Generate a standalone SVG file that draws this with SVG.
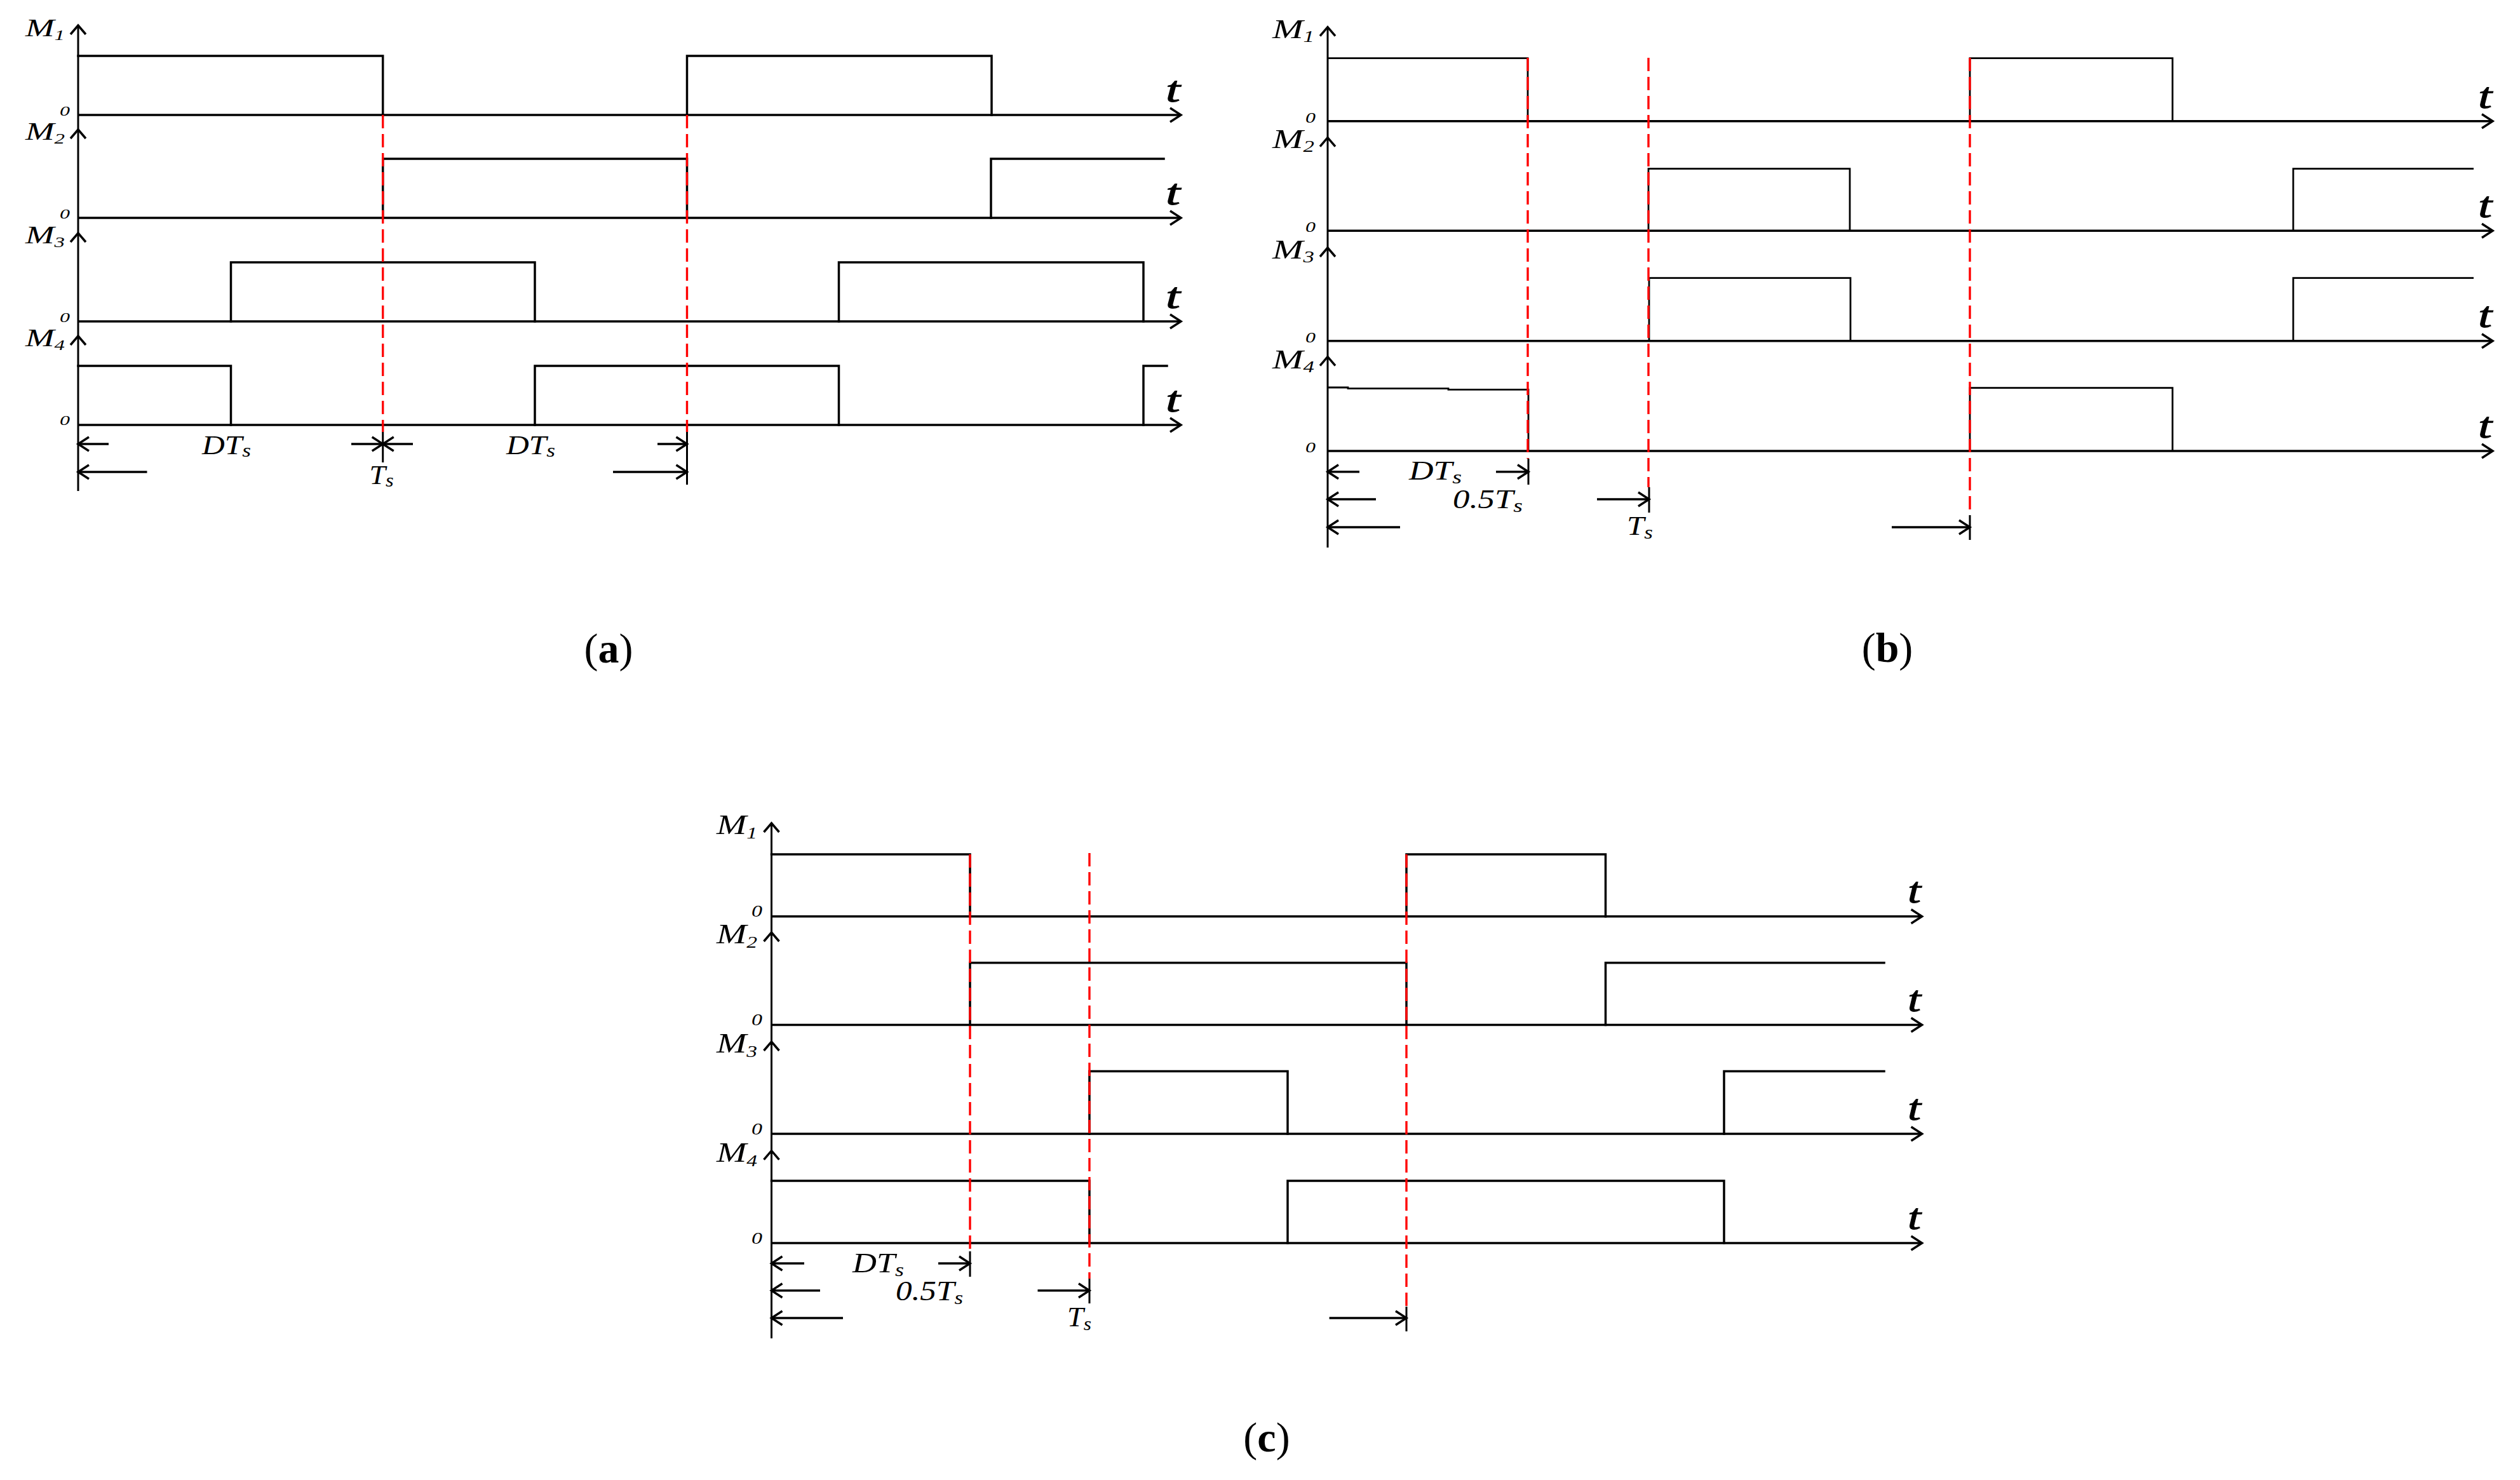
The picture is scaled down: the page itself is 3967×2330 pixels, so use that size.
<svg xmlns="http://www.w3.org/2000/svg" width="3967" height="2330" viewBox="0 0 3967 2330">
<style>
.w{fill:none;stroke:#000;stroke-width:3.5;stroke-linejoin:miter;stroke-linecap:square}
.wb{fill:none;stroke:#000;stroke-width:2.8;stroke-linejoin:miter}
.ax{fill:none;stroke:#000;stroke-width:3.5}
.av{fill:none;stroke:#000;stroke-width:3}
.rd{fill:none;stroke:#f00;stroke-width:3.4;stroke-dasharray:21 9}
.tk{fill:none;stroke:#000;stroke-width:3}
.dim{fill:none;stroke:#000;stroke-width:3.5}
.it{font-family:"Liberation Serif","Times New Roman",serif;font-style:italic;fill:#000}
.tt{font-family:"Liberation Serif","Times New Roman",serif;font-style:italic;fill:#000;stroke:#000;stroke-width:1}
.cap{font-family:"Liberation Serif","Times New Roman",serif;font-size:66px;fill:#000}
</style>
<defs>
<marker id="ah" markerUnits="userSpaceOnUse" viewBox="-2 -14 24 28" markerWidth="24" markerHeight="28" refX="18" refY="0" orient="auto" overflow="visible">
<path d="M1,-11 L18,0 L1,11" fill="none" stroke="#000" stroke-width="3.5"/>
</marker>
<marker id="ay" markerUnits="userSpaceOnUse" viewBox="-2 -14 20 28" markerWidth="20" markerHeight="28" refX="14" refY="0" orient="auto" overflow="visible">
<path d="M0,-12 L14,0 L0,12" fill="none" stroke="#000" stroke-width="3.5"/>
</marker>
</defs>
<rect width="3967" height="2330" fill="#fff"/>

<!-- ===== Panel (a) ===== -->
<g id="panel-a">
  <g id="a-axes">
    <line class="av" x1="123" y1="204" x2="123" y2="40" marker-end="url(#ay)"/>
    <line class="av" x1="123" y1="367" x2="123" y2="204" marker-end="url(#ay)"/>
    <line class="av" x1="123" y1="529" x2="123" y2="367" marker-end="url(#ay)"/>
    <line class="av" x1="123" y1="773" x2="123" y2="529" marker-end="url(#ay)"/>
    <line class="ax" x1="123" y1="181" x2="1859" y2="181" marker-end="url(#ah)"/>
    <line class="ax" x1="123" y1="343" x2="1859" y2="343" marker-end="url(#ah)"/>
    <line class="ax" x1="123" y1="506" x2="1859" y2="506" marker-end="url(#ah)"/>
    <line class="ax" x1="123" y1="669" x2="1859" y2="669" marker-end="url(#ah)"/>
  </g>
  <g id="a-M1"><path class="w" d="M123,88 H602.7 V181 M1081.5,181 V88 H1561 V181"/>
    <text class="it" x="40" y="57" font-size="40" textLength="62" lengthAdjust="spacingAndGlyphs">M<tspan font-size="24" dy="6">1</tspan></text>
    <text class="it" x="94" y="182" font-size="22" textLength="16" lengthAdjust="spacingAndGlyphs">0</text>
    <text class="tt" x="1835" y="160" font-size="56" textLength="23" lengthAdjust="spacingAndGlyphs">t</text></g>
  <g id="a-M2"><path class="w" d="M602.7,343 V250 H1081.5 V343 M1560,343 V250 H1832"/>
    <text class="it" x="40" y="220" font-size="40" textLength="62" lengthAdjust="spacingAndGlyphs">M<tspan font-size="24" dy="6">2</tspan></text>
    <text class="it" x="94" y="344" font-size="22" textLength="16" lengthAdjust="spacingAndGlyphs">0</text>
    <text class="tt" x="1835" y="322" font-size="56" textLength="23" lengthAdjust="spacingAndGlyphs">t</text></g>
  <g id="a-M3"><path class="w" d="M363.5,506 V413 H842 V506 M1320.5,506 V413 H1800 V506"/>
    <text class="it" x="40" y="383" font-size="40" textLength="62" lengthAdjust="spacingAndGlyphs">M<tspan font-size="24" dy="6">3</tspan></text>
    <text class="it" x="94" y="507" font-size="22" textLength="16" lengthAdjust="spacingAndGlyphs">0</text>
    <text class="tt" x="1835" y="485" font-size="56" textLength="23" lengthAdjust="spacingAndGlyphs">t</text></g>
  <g id="a-M4"><path class="w" d="M123,576 H363.5 V669 M842,669 V576 H1320.5 V669 M1800,669 V576 H1837"/>
    <text class="it" x="40" y="545" font-size="40" textLength="62" lengthAdjust="spacingAndGlyphs">M<tspan font-size="24" dy="6">4</tspan></text>
    <text class="it" x="94" y="669" font-size="22" textLength="16" lengthAdjust="spacingAndGlyphs">0</text>
    <text class="tt" x="1835" y="648" font-size="56" textLength="23" lengthAdjust="spacingAndGlyphs">t</text></g>
  <g id="a-marks">
    <line class="rd" x1="602.7" y1="181" x2="602.7" y2="680"/>
    <line class="rd" x1="1081.5" y1="181" x2="1081.5" y2="680"/>
    <line class="tk" x1="602.7" y1="680" x2="602.7" y2="728"/>
    <line class="tk" x1="1081.5" y1="680" x2="1081.5" y2="763"/>
    <text class="it" x="318" y="715" font-size="42" textLength="77" lengthAdjust="spacingAndGlyphs">DT<tspan font-size="30" dy="4">s</tspan></text>
    <text class="it" x="797" y="715" font-size="42" textLength="77" lengthAdjust="spacingAndGlyphs">DT<tspan font-size="30" dy="4">s</tspan></text>
    <text class="it" x="581.6" y="762" font-size="42" textLength="38" lengthAdjust="spacingAndGlyphs">T<tspan font-size="30" dy="4">s</tspan></text>
  </g>
  <text class="cap" x="958" y="1043" text-anchor="middle">(<tspan font-weight="bold">a</tspan>)</text>
</g>

<!-- ===== Panel (b) ===== -->
<g id="panel-b">
  <g id="b-axes">
    <line class="av" x1="2090" y1="216.7" x2="2090" y2="42.7" marker-end="url(#ay)"/>
    <line class="av" x1="2090" y1="390" x2="2090" y2="216.7" marker-end="url(#ay)"/>
    <line class="av" x1="2090" y1="561.7" x2="2090" y2="390" marker-end="url(#ay)"/>
    <line class="av" x1="2090" y1="862" x2="2090" y2="561.7" marker-end="url(#ay)"/>
    <line class="ax" x1="2090" y1="190.7" x2="3924" y2="190.7" marker-end="url(#ah)"/>
    <line class="ax" x1="2090" y1="363.3" x2="3924" y2="363.3" marker-end="url(#ah)"/>
    <line class="ax" x1="2090" y1="536.7" x2="3924" y2="536.7" marker-end="url(#ah)"/>
    <line class="ax" x1="2090" y1="710" x2="3924" y2="710" marker-end="url(#ah)"/>
  </g>
  <g id="b-M1"><path class="wb" d="M2090,91.7 H2405 V190.7 M3101,190.7 V91.7 H3420 V190.7"/>
    <text class="it" x="2003" y="60" font-size="42" textLength="66" lengthAdjust="spacingAndGlyphs">M<tspan font-size="25" dy="6">1</tspan></text>
    <text class="it" x="2055" y="193" font-size="23" textLength="16" lengthAdjust="spacingAndGlyphs">0</text>
    <text class="tt" x="3901" y="170" font-size="58" textLength="22" lengthAdjust="spacingAndGlyphs">t</text></g>
  <g id="b-M2"><path class="wb" d="M2595,363.3 V265.7 H2912 V363.3 M3610,363.3 V265.7 H3894"/>
    <text class="it" x="2003" y="233" font-size="42" textLength="66" lengthAdjust="spacingAndGlyphs">M<tspan font-size="25" dy="6">2</tspan></text>
    <text class="it" x="2055" y="365" font-size="23" textLength="16" lengthAdjust="spacingAndGlyphs">0</text>
    <text class="tt" x="3901" y="342" font-size="58" textLength="22" lengthAdjust="spacingAndGlyphs">t</text></g>
  <g id="b-M3"><path class="wb" d="M2596,536.7 V437.7 H2913 V536.7 M3610,536.7 V437.7 H3894"/>
    <text class="it" x="2003" y="407" font-size="42" textLength="66" lengthAdjust="spacingAndGlyphs">M<tspan font-size="25" dy="6">3</tspan></text>
    <text class="it" x="2055" y="539" font-size="23" textLength="16" lengthAdjust="spacingAndGlyphs">0</text>
    <text class="tt" x="3901" y="515" font-size="58" textLength="22" lengthAdjust="spacingAndGlyphs">t</text></g>
  <g id="b-M4"><path class="wb" d="M2090,610 H2122 V611.7 H2280 V613.3 H2406 V710 M3101,710 V610.7 H3420 V710"/>
    <text class="it" x="2003" y="580" font-size="42" textLength="66" lengthAdjust="spacingAndGlyphs">M<tspan font-size="25" dy="6">4</tspan></text>
    <text class="it" x="2055" y="712" font-size="23" textLength="16" lengthAdjust="spacingAndGlyphs">0</text>
    <text class="tt" x="3901" y="689" font-size="58" textLength="22" lengthAdjust="spacingAndGlyphs">t</text></g>
  <g id="b-marks">
    <line class="rd" x1="2405" y1="91" x2="2405" y2="722" stroke-width="2.6"/>
    <line class="rd" x1="2595" y1="91" x2="2595" y2="767" stroke-width="2.6"/>
    <line class="rd" x1="3101" y1="91" x2="3101" y2="811" stroke-width="2.6"/>
    <line class="tk" x1="2406" y1="722" x2="2406" y2="763"/>
    <line class="tk" x1="2596" y1="767" x2="2596" y2="807"/>
    <line class="tk" x1="3101" y1="811" x2="3101" y2="850"/>
    <text class="it" x="2218" y="755" font-size="42" textLength="83" lengthAdjust="spacingAndGlyphs">DT<tspan font-size="30" dy="6">s</tspan></text>
    <text class="it" x="2287" y="800" font-size="42" textLength="110" lengthAdjust="spacingAndGlyphs">0.5T<tspan font-size="30" dy="6">s</tspan></text>
    <text class="it" x="2561" y="842" font-size="42" textLength="41" lengthAdjust="spacingAndGlyphs">T<tspan font-size="30" dy="6">s</tspan></text>
  </g>
  <text class="cap" x="2971" y="1042" text-anchor="middle">(<tspan font-weight="bold">b</tspan>)</text>
</g>

<!-- ===== Panel (c) ===== -->
<g id="panel-c">
  <g id="c-axes">
    <line class="av" x1="1214.5" y1="1468" x2="1214.5" y2="1296" marker-end="url(#ay)"/>
    <line class="av" x1="1214.5" y1="1640" x2="1214.5" y2="1468" marker-end="url(#ay)"/>
    <line class="av" x1="1214.5" y1="1811.7" x2="1214.5" y2="1640" marker-end="url(#ay)"/>
    <line class="av" x1="1214.5" y1="2107" x2="1214.5" y2="1811.7" marker-end="url(#ay)"/>
    <line class="ax" x1="1214.5" y1="1442.7" x2="3025.6" y2="1442.7" marker-end="url(#ah)"/>
    <line class="ax" x1="1214.5" y1="1613.5" x2="3025.6" y2="1613.5" marker-end="url(#ah)"/>
    <line class="ax" x1="1214.5" y1="1785" x2="3025.6" y2="1785" marker-end="url(#ah)"/>
    <line class="ax" x1="1214.5" y1="1957" x2="3025.6" y2="1957" marker-end="url(#ah)"/>
  </g>
  <g id="c-M1"><path class="w" d="M1214.5,1345 H1527 V1442.7 M2214,1442.7 V1345 H2527.5 V1442.7"/>
    <text class="it" x="1128" y="1313" font-size="44" textLength="64" lengthAdjust="spacingAndGlyphs">M<tspan font-size="26" dy="7">1</tspan></text>
    <text class="it" x="1183" y="1443" font-size="25" textLength="17" lengthAdjust="spacingAndGlyphs">0</text>
    <text class="tt" x="3003" y="1421" font-size="58" textLength="21" lengthAdjust="spacingAndGlyphs">t</text></g>
  <g id="c-M2"><path class="w" d="M1527,1613.5 V1515.7 H2214 V1613.5 M2527.5,1613.5 V1515.7 H2966"/>
    <text class="it" x="1128" y="1485" font-size="44" textLength="64" lengthAdjust="spacingAndGlyphs">M<tspan font-size="26" dy="7">2</tspan></text>
    <text class="it" x="1183" y="1614" font-size="25" textLength="17" lengthAdjust="spacingAndGlyphs">0</text>
    <text class="tt" x="3003" y="1592" font-size="58" textLength="21" lengthAdjust="spacingAndGlyphs">t</text></g>
  <g id="c-M3"><path class="w" d="M1715,1785 V1686.5 H2027 V1785 M2714,1785 V1686.5 H2966"/>
    <text class="it" x="1128" y="1657" font-size="44" textLength="64" lengthAdjust="spacingAndGlyphs">M<tspan font-size="26" dy="7">3</tspan></text>
    <text class="it" x="1183" y="1786" font-size="25" textLength="17" lengthAdjust="spacingAndGlyphs">0</text>
    <text class="tt" x="3003" y="1763" font-size="58" textLength="21" lengthAdjust="spacingAndGlyphs">t</text></g>
  <g id="c-M4"><path class="w" d="M1214.5,1859 H1715 V1957 M2027,1957 V1859 H2714 V1957"/>
    <text class="it" x="1128" y="1829" font-size="44" textLength="64" lengthAdjust="spacingAndGlyphs">M<tspan font-size="26" dy="7">4</tspan></text>
    <text class="it" x="1183" y="1958" font-size="25" textLength="17" lengthAdjust="spacingAndGlyphs">0</text>
    <text class="tt" x="3003" y="1935" font-size="58" textLength="21" lengthAdjust="spacingAndGlyphs">t</text></g>
  <g id="c-marks">
    <line class="rd" x1="1527" y1="1345" x2="1527" y2="1970"/>
    <line class="rd" x1="1715" y1="1343" x2="1715" y2="2013"/>
    <line class="rd" x1="2214" y1="1345" x2="2214" y2="2057"/>
    <line class="tk" x1="1527" y1="1970" x2="1527" y2="2010"/>
    <line class="tk" x1="1715" y1="2013" x2="1715" y2="2052"/>
    <line class="tk" x1="2214" y1="2057" x2="2214" y2="2096"/>
    <text class="it" x="1342" y="2003" font-size="44" textLength="81" lengthAdjust="spacingAndGlyphs">DT<tspan font-size="30" dy="6">s</tspan></text>
    <text class="it" x="1410" y="2047" font-size="44" textLength="106" lengthAdjust="spacingAndGlyphs">0.5T<tspan font-size="30" dy="6">s</tspan></text>
    <text class="it" x="1680" y="2088" font-size="44" textLength="38" lengthAdjust="spacingAndGlyphs">T<tspan font-size="30" dy="6">s</tspan></text>
  </g>
  <text class="cap" x="1994" y="2285" text-anchor="middle">(<tspan font-weight="bold">c</tspan>)</text>
</g>

<!-- ===== Dimension connectors ===== -->
<g id="connectors">
  <!-- (a) -->
  <line class="dim" x1="171" y1="699" x2="123" y2="699" marker-end="url(#ah)"/>
  <line class="dim" x1="553" y1="699" x2="602.7" y2="699" marker-end="url(#ah)"/>
  <line class="dim" x1="650" y1="699" x2="602.7" y2="699" marker-end="url(#ah)"/>
  <line class="dim" x1="1035" y1="699" x2="1081.5" y2="699" marker-end="url(#ah)"/>
  <line class="dim" x1="231.5" y1="743" x2="123" y2="743" marker-end="url(#ah)"/>
  <line class="dim" x1="965" y1="743" x2="1081.5" y2="743" marker-end="url(#ah)"/>
  <!-- (b) -->
  <line class="dim" x1="2140" y1="742.7" x2="2090" y2="742.7" marker-end="url(#ah)"/>
  <line class="dim" x1="2355" y1="742.7" x2="2406" y2="742.7" marker-end="url(#ah)"/>
  <line class="dim" x1="2166" y1="786" x2="2090" y2="786" marker-end="url(#ah)"/>
  <line class="dim" x1="2514" y1="786" x2="2596" y2="786" marker-end="url(#ah)"/>
  <line class="dim" x1="2204" y1="830" x2="2090" y2="830" marker-end="url(#ah)"/>
  <line class="dim" x1="2978" y1="830" x2="3101" y2="830" marker-end="url(#ah)"/>
  <!-- (c) -->
  <line class="dim" x1="1266" y1="1989" x2="1214.5" y2="1989" marker-end="url(#ah)"/>
  <line class="dim" x1="1477" y1="1989" x2="1527" y2="1989" marker-end="url(#ah)"/>
  <line class="dim" x1="1291" y1="2031.7" x2="1214.5" y2="2031.7" marker-end="url(#ah)"/>
  <line class="dim" x1="1633.5" y1="2031.7" x2="1715" y2="2031.7" marker-end="url(#ah)"/>
  <line class="dim" x1="1327" y1="2075" x2="1214.5" y2="2075" marker-end="url(#ah)"/>
  <line class="dim" x1="2092.6" y1="2075" x2="2214" y2="2075" marker-end="url(#ah)"/>
</g>
</svg>
